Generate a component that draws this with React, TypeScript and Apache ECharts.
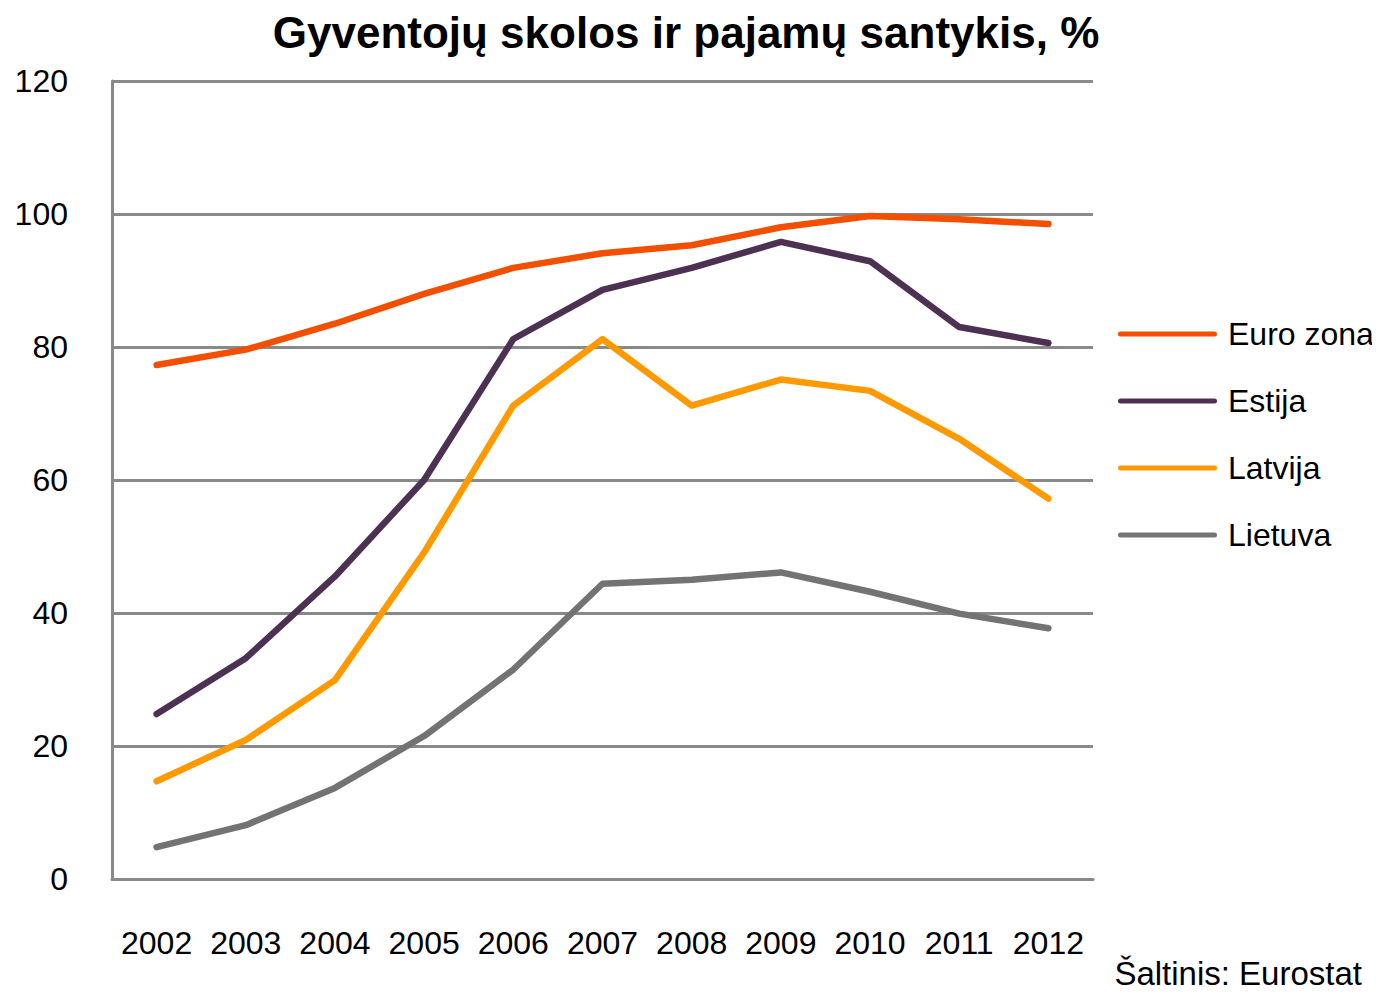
import React, { useEffect, useRef } from "react";
import * as echarts from "echarts";

const years = ["2002", "2003", "2004", "2005", "2006", "2007", "2008", "2009", "2010", "2011", "2012"];
const euroZona = [77.3, 79.6, 83.5, 88.0, 91.9, 94.1, 95.3, 98.0, 99.7, 99.2, 98.5];
const estija = [24.8, 33.2, 45.5, 60.0, 81.2, 88.6, 91.9, 95.8, 92.9, 83.0, 80.6];
const latvija = [14.7, 20.9, 29.9, 49.1, 71.2, 81.2, 71.2, 75.1, 73.4, 66.2, 57.2];
const lietuva = [4.8, 8.1, 13.7, 21.5, 31.5, 44.4, 45.0, 46.1, 43.2, 39.9, 37.7];

const seriesNames = ["Euro zona", "Estija", "Latvija", "Lietuva"];
const seriesColors = ["#F24F00", "#4D3152", "#FF9900", "#737373"];
const seriesData = [euroZona, estija, latvija, lietuva];

const FONT = "'Liberation Sans', Arial, sans-serif";
const GRAY = "#898989";
const LEGEND_ICON = "path://M2.5,0 H96.5 A2.5,2.5 0 0 1 96.5,5 H2.5 A2.5,2.5 0 0 1 2.5,0 Z";

export default function App() {
  const ref = useRef<HTMLDivElement>(null);
  useEffect(() => {
    if (!ref.current) return;
    const chart = echarts.init(ref.current, null, { renderer: "svg" });
    chart.setOption({
      animation: false,
      backgroundColor: "#ffffff",
      title: {
        text: "Gyventojų skolos ir pajamų santykis, %",
        left: 681,
        textAlign: "center",
        top: 5,
        textStyle: {
          fontFamily: "'Liberation Sans Narrow', 'Liberation Sans', Arial, sans-serif",
          fontWeight: "bold",
          fontSize: 44,
          color: "#000",
        },
      },
      legend: {
        orient: "vertical",
        left: 1118,
        top: 318,
        padding: 0,
        itemWidth: 99,
        itemHeight: 5,
        itemGap: 35,
        icon: LEGEND_ICON,
        data: seriesNames,
        textStyle: { fontFamily: FONT, fontSize: 32, color: "#000", padding: [0, 0, 0, 6] },
      },
      grid: { left: 112, right: 287, top: 81, bottom: 115, containLabel: false },
      xAxis: {
        type: "category",
        data: years,
        boundaryGap: true,
        axisLine: { show: true, lineStyle: { color: GRAY, width: 3 } },
        axisTick: { show: false },
        axisLabel: { fontFamily: FONT, fontSize: 32, color: "#000", margin: 48, interval: 0 },
      },
      yAxis: {
        type: "value",
        min: 0,
        max: 120,
        interval: 20,
        axisLine: { show: true, lineStyle: { color: GRAY, width: 3 } },
        axisTick: { show: false },
        splitLine: { show: true, lineStyle: { color: GRAY, width: 3 } },
        axisLabel: { fontFamily: FONT, fontSize: 32, color: "#000", margin: 44 },
      },
      graphic: [
        {
          type: "text",
          right: 18,
          top: 957,
          style: { text: "Šaltinis: Eurostat", font: `33px ${FONT}`, fill: "#000" },
        },
      ],
      series: seriesData.map((d, i) => ({
        name: seriesNames[i],
        type: "line",
        data: d,
        symbol: "none",
        color: seriesColors[i],
        lineStyle: { color: seriesColors[i], width: 6.5, cap: "round", join: "round" },
      })),
    });
    return () => chart.dispose();
  }, []);
  return <div ref={ref} style={{ width: 1380, height: 994, margin: -8 }} />;
}
